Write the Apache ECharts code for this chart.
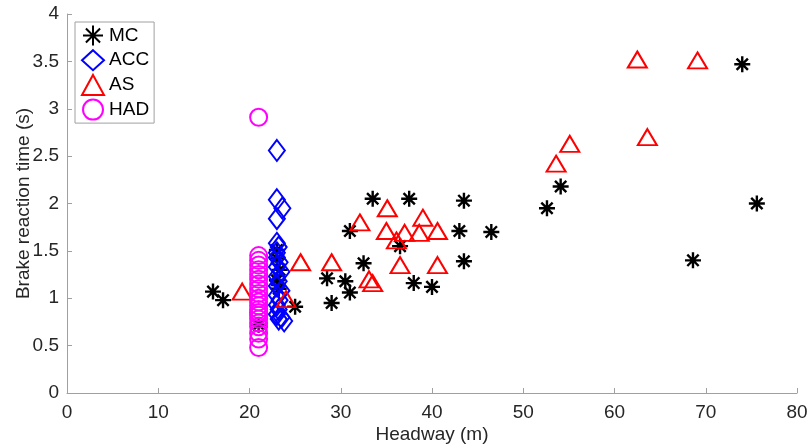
<!DOCTYPE html>
<html>
<head>
<meta charset="utf-8">
<script src="https://cdn.jsdelivr.net/npm/echarts@6/dist/echarts.min.js"></script>
<style>
  html, body {margin: 0; padding: 0; background: #fff;}
  #chart {width: 808px; height: 446px;}
</style>
</head>
<body>
<div id="chart"></div>
<script>
// values: [headway (m), brake reaction time (s)]
const mc_points = [
    [16.0, 1.07], [17.1, 0.98], [21.0, 0.72], [23.0, 1.51], [23.0, 1.42],
    [23.3, 1.30], [23.0, 1.19], [23.2, 1.10], [25.0, 0.91], [28.5, 1.21],
    [29.0, 0.95], [30.5, 1.18], [31.0, 1.06], [31.0, 1.71], [32.5, 1.37],
    [33.5, 2.05], [36.5, 1.55], [37.5, 2.05], [38.0, 1.16], [40.0, 1.12],
    [43.0, 1.71], [43.5, 2.03], [43.5, 1.39], [46.5, 1.70], [52.6, 1.95],
    [54.1, 2.18], [68.6, 1.40], [74.0, 3.47], [75.6, 2.00]
];
const acc_points = [
    [23.0, 2.56], [23.0, 2.04], [23.6, 1.95], [23.0, 1.84], [23.0, 1.58],
    [23.2, 1.54], [23.0, 1.48], [23.0, 1.43], [23.3, 1.38], [23.0, 1.33],
    [23.5, 1.28], [23.0, 1.23], [23.2, 1.18], [23.0, 1.13], [23.5, 1.08],
    [23.0, 1.03], [23.3, 0.98], [23.0, 0.93], [23.2, 0.88], [23.0, 0.83],
    [23.5, 0.80], [23.8, 0.76], [23.2, 0.78]
];
const as_points = [
    [19.2, 1.07], [24.0, 0.99], [25.6, 1.38], [29.0, 1.38], [32.1, 1.80],
    [33.1, 1.20], [33.5, 1.16], [35.1, 1.95], [35.0, 1.71], [36.1, 1.61],
    [36.5, 1.35], [37.0, 1.69], [38.6, 1.69], [39.0, 1.85], [40.6, 1.71],
    [40.6, 1.35], [53.6, 2.42], [55.1, 2.63], [62.5, 3.52], [63.6, 2.70],
    [69.1, 3.51]
];
const had_x = 21.0;
const had_times = [
    2.91, 1.45, 1.40, 1.35, 1.30, 1.25, 1.20, 1.15, 1.10, 1.05, 1.00,
    0.96, 0.92, 0.88, 0.85, 0.82, 0.78, 0.74, 0.70, 0.63, 0.57, 0.48
];
const series_names = ["MC", "ACC", "AS", "HAD"];

const font = "'Liberation Sans', Arial, sans-serif";
const axis_grey = "#a0a0a0";
const label_grey = "#262626";

// matlab style 8 armed asterisk
const star = "path://M5,0L5,10M0,5L10,5M1.46,1.46L8.54,8.54M8.54,1.46L1.46,8.54";

function hollow(color, width){
    return {color: "transparent", borderColor: color, borderWidth: width || 2, opacity: 1};
}

function valueAxis(name, max, interval, gap, margin){
    return {
        type: "value", min: 0, max, interval,
        name, nameLocation: "middle", nameGap: gap, nameMoveOverlap: false,
        nameTextStyle: {fontFamily: font, fontSize: 19, color: label_grey},
        axisLine: {show: true, lineStyle: {color: axis_grey, width: 1}},
        axisTick: {show: true, inside: true, length: 5, lineStyle: {color: axis_grey}},
        axisLabel: {fontFamily: font, fontSize: 19, color: label_grey, margin},
        splitLine: {show: false}
    };
}

const chart = echarts.init(document.getElementById("chart"), null, {renderer: "canvas"});

chart.setOption({
    animation: false,
    backgroundColor: "#fff",
    grid: {left: 67, right: 11, top: 14, bottom: 53, outerBoundsMode: "none"},
    xAxis: valueAxis("Headway (m)", 80, 10, 32, 10),
    yAxis: valueAxis("Brake reaction time (s)", 4, 0.5, 34, 8),
    legend: {
        data: series_names,
        orient: "vertical",
        left: 75, top: 22,
        itemWidth: 22, itemHeight: 20, itemGap: 2.7,
        padding: [2.5, 5, 2.5, 6],
        borderColor: axis_grey, borderWidth: 1,
        backgroundColor: "#fff",
        textStyle: {fontFamily: font, fontSize: 19, color: "#000"}
    },
    series: [
        {name: "MC", type: "scatter", data: mc_points, symbol: star,
         symbolSize: 16, itemStyle: hollow("#000", 2.4)},
        {name: "ACC", type: "scatter", data: acc_points, symbol: "diamond",
         symbolSize: [16, 21], itemStyle: hollow("#0000ff")},
        {name: "AS", type: "scatter", data: as_points, symbol: "triangle",
         symbolSize: [19, 16], itemStyle: hollow("#ff0000")},
        {name: "HAD", type: "scatter", data: had_times.map(t => [had_x, t]),
         symbol: "circle", symbolSize: 17, itemStyle: hollow("#ff00ff")}
    ]
});
</script>
</body>
</html>
